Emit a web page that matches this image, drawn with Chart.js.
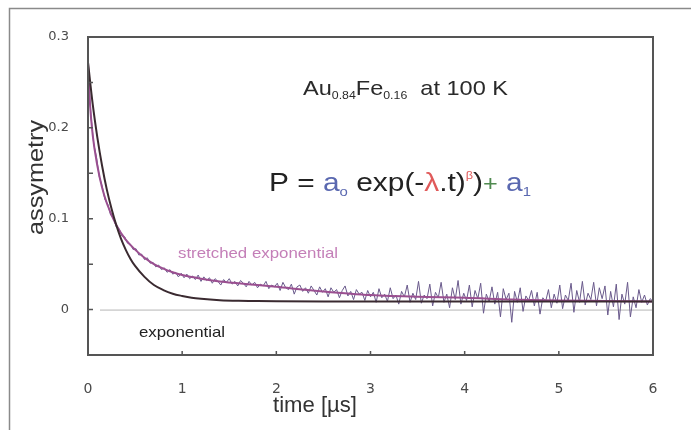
<!DOCTYPE html>
<html>
<head>
<meta charset="utf-8">
<script src="https://cdn.jsdelivr.net/npm/chart.js@4"></script>
<style>
  html, body { margin: 0; padding: 0; background: #fff; }
  #wrap { width: 691px; height: 430px; }
</style>
</head>
<body>
<div id="wrap"><canvas id="myChart" width="691" height="430"></canvas></div>
<script>
// fit curves
const expTime = [0, 0.05, 0.1, 0.15, 0.2, 0.25, 0.3, 0.35, 0.4, 0.45, 0.5, 0.6, 0.7, 0.8, 0.9, 1.0, 1.1, 1.2, 1.4, 1.6, 1.8, 2.0, 2.5, 3, 4, 5, 6];
const expValues = [0.272, 0.226, 0.189, 0.158, 0.132, 0.111, 0.093, 0.078, 0.066, 0.056, 0.048, 0.036, 0.027, 0.0215, 0.0175, 0.015, 0.013, 0.0118, 0.0103, 0.0096, 0.0093, 0.0091, 0.009, 0.009, 0.009, 0.009, 0.009];

const strTime = [0, 0.02, 0.05, 0.1, 0.15, 0.2, 0.3, 0.4, 0.5, 0.6, 0.7, 0.8, 0.9, 1.0, 1.2, 1.4, 1.6, 1.8, 2.0, 2.5, 3.0, 3.5, 4.0, 4.5, 5.0, 5.5, 6.0];
const strValues = [0.272, 0.228, 0.192, 0.158, 0.134, 0.117, 0.093, 0.077, 0.066, 0.057, 0.050, 0.045, 0.041, 0.038, 0.034, 0.031, 0.029, 0.027, 0.025, 0.020, 0.016, 0.014, 0.013, 0.011, 0.010, 0.0095, 0.009];

// measured asymmetry, one point every 0.03 us
const dataStep = 0.03;
const dataValues = [
  0.268, 0.215, 0.183, 0.168, 0.146, 0.136, 0.121, 0.116, 0.104, 0.101,
  0.091, 0.089, 0.081, 0.080, 0.073, 0.072, 0.066, 0.067, 0.060, 0.061,
  0.055, 0.057, 0.051, 0.052, 0.047, 0.049, 0.044, 0.046, 0.041, 0.044,
  0.039, 0.041, 0.036, 0.040, 0.035, 0.039, 0.034, 0.037, 0.033, 0.038,
  0.031, 0.036, 0.032, 0.035, 0.029, 0.034, 0.031, 0.027, 0.033, 0.030,
  0.034, 0.028, 0.031, 0.026, 0.032, 0.029, 0.025, 0.031, 0.027, 0.030,
  0.024, 0.028, 0.026, 0.031, 0.023, 0.027, 0.025, 0.029, 0.021, 0.030,
  0.024, 0.022, 0.028, 0.017, 0.025, 0.027, 0.020, 0.024, 0.018, 0.026,
  0.021, 0.016, 0.025, 0.019, 0.023, 0.014, 0.024, 0.019, 0.022, 0.013,
  0.021, 0.026, 0.015, 0.020, 0.011, 0.022, 0.017, 0.019, 0.010, 0.021,
  0.014, 0.019, 0.008, 0.023, 0.013, 0.017, 0.009, 0.024, 0.012, 0.016,
  0.006, 0.020, 0.014, 0.027, 0.008, 0.018, 0.011, 0.031, 0.007, 0.016,
  0.012, 0.028, 0.004, 0.019, 0.013, 0.030, 0.008, 0.017, 0.002, 0.024,
  0.011, 0.032, 0.006, 0.018, 0.010, 0.027, 0.003, 0.021, 0.012, 0.029,
  -0.004, 0.017, 0.009, 0.025, 0.006, 0.019, -0.008, 0.023, 0.011, 0.018,
  -0.014, 0.020, 0.008, 0.024, -0.002, 0.015, 0.010, 0.021, 0.004, 0.019,
  -0.005, 0.013, 0.009, 0.022, 0.002, 0.017, 0.007, 0.027, 0.001, 0.016,
  0.010, 0.029, -0.003, 0.021, 0.008, 0.031, 0.005, 0.018, 0.011, 0.030,
  0.004, 0.024, 0.012, 0.026, -0.006, 0.020, 0.003, 0.028, -0.011, 0.017,
  0.006, 0.030, -0.008, 0.014, 0.002, 0.022, 0.008, 0.016, 0.005, 0.012,
  0.009
];

const xTicks = [0, 1, 2, 3, 4, 5, 6];

const dataPoints = dataValues.map((v, i) => ({ x: i * dataStep, y: v }));
const expPoints = expTime.map((t, i) => ({ x: t, y: expValues[i] }));
const strPoints = strTime.map((t, i) => ({ x: t, y: strValues[i] }));

// draw a run of text pieces, squeezed/stretched to a target width
function drawRuns(ctx, runs, x0, x1, base) {
  let total = 0;
  runs.forEach(r => {
    ctx.font = r.size + 'px "Liberation Sans", Arial, sans-serif';
    r.w = ctx.measureText(r.t).width;
    total += r.w;
  });
  const k = (x1 - x0) / total;
  ctx.save();
  ctx.translate(x0, base);
  ctx.scale(k, 1);
  let x = 0;
  runs.forEach(r => {
    ctx.font = r.size + 'px "Liberation Sans", Arial, sans-serif';
    ctx.fillStyle = r.color;
    ctx.textBaseline = 'alphabetic';
    ctx.textAlign = 'left';
    ctx.fillText(r.t, x, r.dy || 0);
    x += r.w;
  });
  ctx.restore();
}

const decor = {
  id: 'decor',
  beforeDraw(chart) {
    const c = chart.ctx;
    c.save();
    c.fillStyle = '#fff';
    c.fillRect(0, 0, chart.width, chart.height);
    c.strokeStyle = '#8a8a8a';
    c.lineWidth = 1.5;
    c.beginPath();
    c.moveTo(9.5, 430);
    c.lineTo(9.5, 8.5);
    c.lineTo(691, 8.5);
    c.stroke();
    // zero line
    const a = chart.chartArea;
    const y0 = chart.scales.y.getPixelForValue(0);
    c.strokeStyle = '#b5b5b5';
    c.lineWidth = 1;
    c.beginPath();
    c.moveTo(a.left + 12, y0 + 0.5);
    c.lineTo(a.right, y0 + 0.5);
    c.stroke();
    c.restore();
  },
  afterDraw(chart) {
    const c = chart.ctx;
    const a = chart.chartArea;
    const xs = chart.scales.x, ys = chart.scales.y;
    c.save();
    c.strokeStyle = '#555';
    c.lineWidth = 2;
    c.strokeRect(a.left, a.top, a.right - a.left, a.bottom - a.top);
    // inward ticks
    c.lineWidth = 1.5;
    c.beginPath();
    ys.ticks.forEach(t => {
      const p = ys.getPixelForValue(t.value);
      c.moveTo(a.left, p);
      c.lineTo(a.left + 5, p);
    });
    xTicks.forEach(v => {
      const p = xs.getPixelForValue(v);
      c.moveTo(p, a.bottom);
      c.lineTo(p, a.bottom - 4);
    });
    c.stroke();

    drawRuns(c, [
      { t: 'Au', size: 21, color: '#2a2a2a' },
      { t: '0.84', size: 11, color: '#2a2a2a', dy: 4 },
      { t: 'Fe', size: 21, color: '#2a2a2a' },
      { t: '0.16', size: 11, color: '#2a2a2a', dy: 4 },
      { t: '  at 100 K', size: 21, color: '#2a2a2a' }
    ], 303, 508, 95);

    drawRuns(c, [
      { t: 'P = ', size: 26, color: '#222' },
      { t: 'a', size: 26, color: '#5a68b0' },
      { t: 'o', size: 13, color: '#5a68b0', dy: 5 },
      { t: ' exp(-', size: 26, color: '#222' },
      { t: '\u03bb', size: 26, color: '#e05a5a' },
      { t: '.t)', size: 26, color: '#222' },
      { t: '\u03b2', size: 11, color: '#e05a5a', dy: -12 },
      { t: ')', size: 26, color: '#222' },
      { t: '+', size: 22, color: '#4f8a4f' },
      { t: ' a', size: 26, color: '#5a68b0' },
      { t: '1', size: 13, color: '#5a68b0', dy: 5 }
    ], 269, 531, 191);

    drawRuns(c, [{ t: 'stretched exponential', size: 15, color: '#c47fb8' }], 178, 338, 258);
    drawRuns(c, [{ t: 'exponential', size: 15, color: '#222' }], 139, 225, 337);
    drawRuns(c, [{ t: 'time [\u00b5s]', size: 22, color: '#333' }], 273, 357, 412);

    c.save();
    c.translate(43, 235);
    c.rotate(-Math.PI / 2);
    drawRuns(c, [{ t: 'assymetry', size: 22, color: '#333' }], 0, 115, 0);
    c.restore();
    c.restore();
  }
};

const ctx = document.getElementById('myChart');
const myChart = new Chart(ctx, {
  type: 'line',
  data: {
    datasets: [
      {
        label: 'exponential',
        data: expPoints,
        borderColor: '#3a2a30',
        borderWidth: 2,
        pointRadius: 0,
        cubicInterpolationMode: 'monotone',
        fill: false
      },
      {
        label: 'stretched exponential',
        data: strPoints,
        borderColor: '#9a4f90',
        borderWidth: 2,
        pointRadius: 0,
        cubicInterpolationMode: 'monotone',
        fill: false
      },
      {
        label: 'data',
        data: dataPoints,
        borderColor: '#6a5a8c',
        borderWidth: 1,
        pointRadius: 0,
        tension: 0,
        fill: false
      }
    ]
  },
  options: {
    responsive: false,
    animation: false,
    devicePixelRatio: 1,
    layout: { padding: { top: 37, right: 38, left: 0, bottom: 0 } },
    plugins: { legend: { display: false }, tooltip: { enabled: false } },
    scales: {
      x: {
        type: 'linear',
        min: 0,
        max: 6,
        afterFit(scale) { scale.height = 75; },
        grid: { display: false },
        border: { display: false },
        ticks: {
          stepSize: 1,
          padding: 18,
          color: '#4a4a4a',
          font: { family: 'DejaVu Sans', size: 14 },
          maxRotation: 0
        }
      },
      y: {
        min: -0.05,
        max: 0.3,
        afterFit(scale) { scale.width = 88; },
        grid: { display: false },
        border: { display: false },
        ticks: {
          stepSize: 0.05,
          padding: 11,
          color: '#4a4a4a',
          font: { family: 'DejaVu Sans', size: 13 },
          callback(v) {
            const n = Math.round(v * 100);
            if (n < 0 || n % 10 !== 0) return '';
            return n === 0 ? '0' : (n / 100).toFixed(1);
          }
        }
      }
    }
  },
  plugins: [decor]
});
</script>
</body>
</html>
